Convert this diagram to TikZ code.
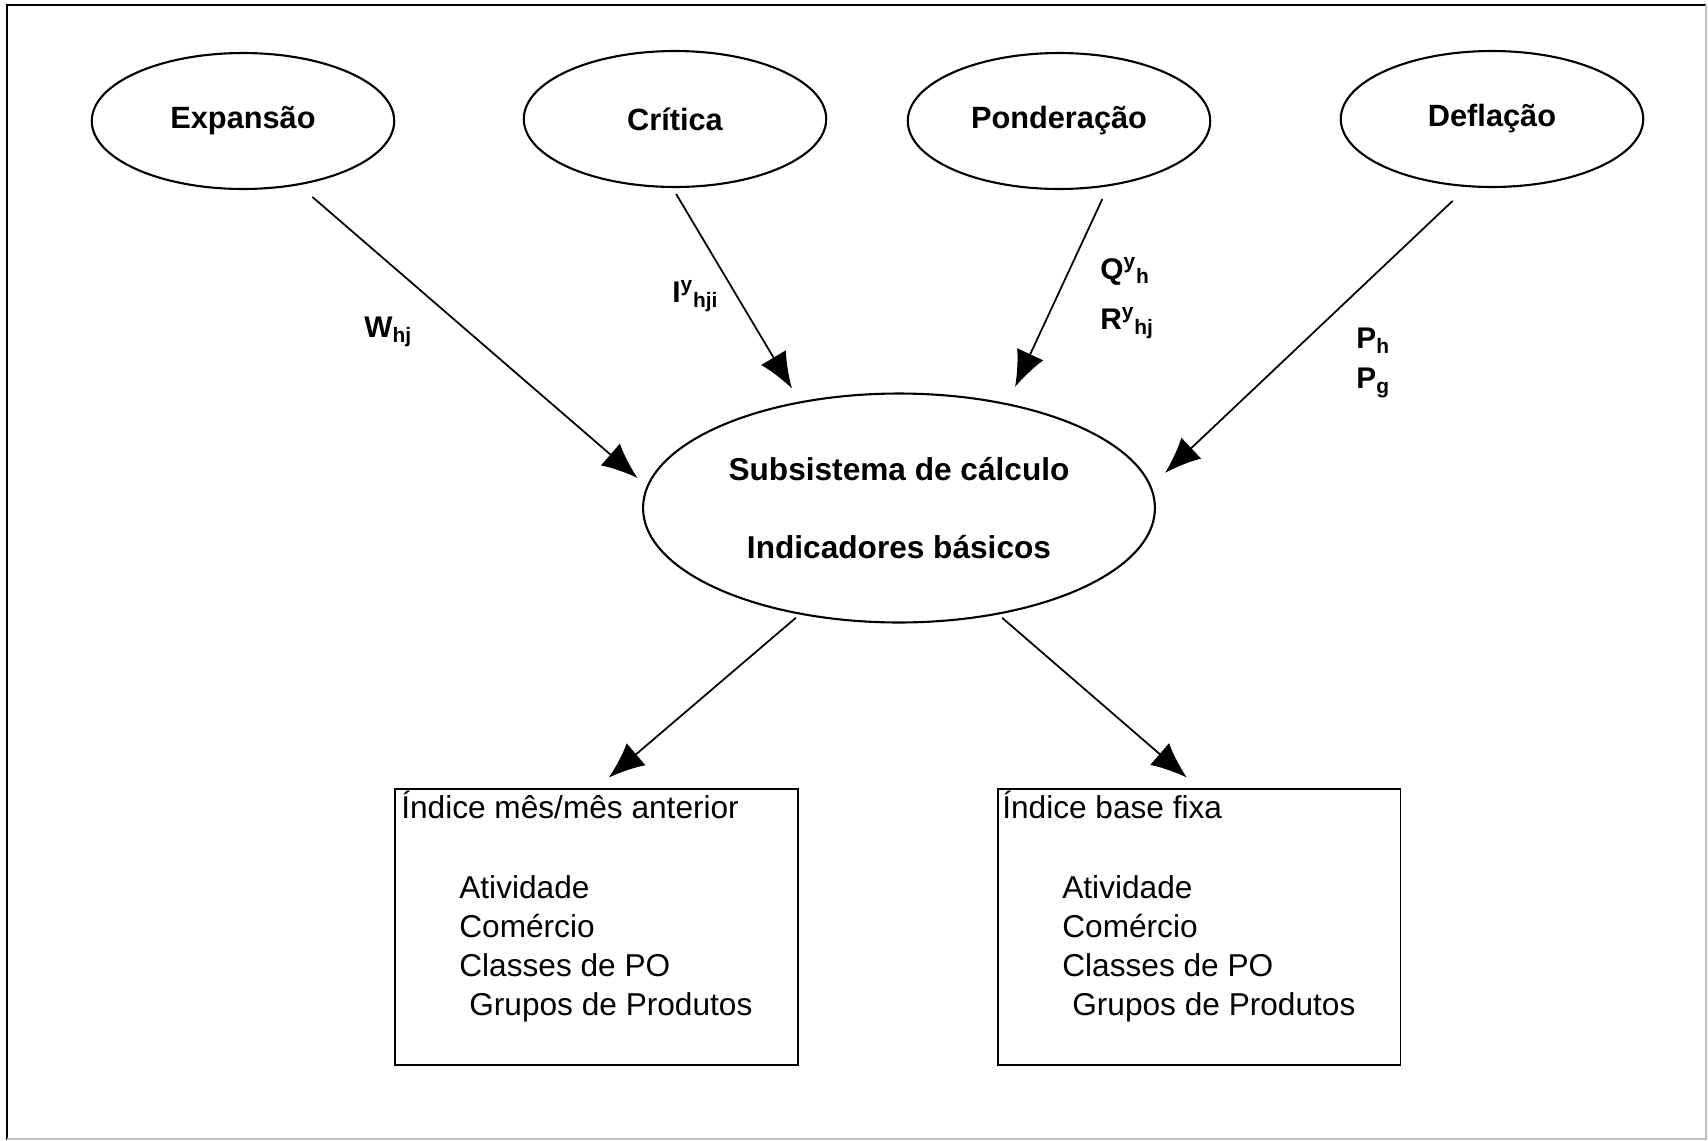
\documentclass[tikz,border=0pt]{standalone}
\usepackage{fontspec}
\setmainfont{Liberation Sans}
\usetikzlibrary{shapes.geometric, arrows.meta, positioning}

\begin{document}
\begin{tikzpicture}[x=0.02cm, y=-0.02cm]
      \tikzset{ topell/.style ={draw=black, ellipse, line width=1.2pt, minimum width=6.05cm, minimum height=2.72cm, inner sep=0pt, font=\fontsize{17.5}{20}\selectfont\bfseries} }
      \tikzset{ calcell/.style={draw=black, ellipse, line width=1.2pt, minimum width=10.24cm, minimum height=4.58cm, inner sep=0pt, align=center, font=\fontsize{18}{20}\selectfont\bfseries} }
      \tikzset{ idxbox/.style ={draw=black, rectangle, line width=1.1pt, minimum width=8.06cm, minimum height=5.52cm, inner sep=0pt} }
      \tikzset{ lbl/.style    ={inner sep=0pt, anchor=west, font=\fontsize{17}{20}\selectfont\bfseries} }
      \tikzset{ txt/.style    ={inner sep=0pt, align=left, font=\fontsize{18}{22.2}\selectfont} }
      \tikzset{ flow/.style   ={-{Latex[length=0.72cm,width=0.58cm]}, line width=1pt} }

      \useasboundingbox (0,0) rectangle (1708,1140);

      % frame
      \draw[line width=1.2pt] (7,1140) -- (7,5) -- (1706,5);
      \draw[gray!50, line width=0.6pt] (1706,5) -- (1706,1139) -- (7,1139);

      \node[topell] (e_exp)  at ( 243, 121) {Expansão};
      \node[topell] (e_crit) at ( 675, 119) {Crítica};
      \node[topell] (e_pond) at (1059, 121) {Ponderação};
      \node[topell] (e_defl) at (1492, 119) {Deflação};

      \node[calcell] (e_calc) at (899, 508) {Subsistema de cálculo\\[24pt]Indicadores básicos};

      \draw[flow, shorten <=0.36cm, shorten >=0.24cm] (e_exp.-49)   -- (e_calc.175);
      \draw[flow, shorten <=0.14cm, shorten >=0.30cm] (e_crit.-92)  -- (e_calc.133);
      \draw[flow, shorten <=0.28cm, shorten >=0.36cm] (e_pond.-53)  -- (e_calc.44);
      \draw[flow, shorten <=0.40cm, shorten >=0.38cm] (e_defl.-110) -- (e_calc.5);

      \node[lbl] (l_w)  at (364, 332) {W\textsubscript{hj}};
      \node[lbl] (l_i)  at (672, 296) {I\textsuperscript{y}\textsubscript{hji}};
      \node[lbl] (l_q)  at (1100, 271) {Q\textsuperscript{y}\textsubscript{h}};
      \node[lbl] (l_r)  at (1100, 323) {R\textsuperscript{y}\textsubscript{hj}};
      \node[lbl] (l_ph) at (1356, 341) {P\textsubscript{h}};
      \node[lbl] (l_pg) at (1356, 383) {P\textsubscript{g}};

      \node[idxbox] (b_mes)  at ( 596.5, 927) {};
      \node[idxbox] (b_fixa) at (1199.0, 927) {};

      \draw[flow, shorten <=0.10cm, shorten >=0.32cm] (e_calc.-133) -- (b_mes.north);
      \draw[flow, shorten <=0.10cm, shorten >=0.32cm] (e_calc.-47)  -- (b_fixa.north);

      \node[txt, anchor=base west] (t_mes)  at (401, 818) {Índice mês/mês anterior};
      \node[txt, anchor=north west] (t_mesl) at (459, 875) {Atividade\\Comércio\\Classes de PO\\\hspace{0.2cm}Grupos de Produtos};

      \node[txt, anchor=base west] (t_fixa)  at (1002, 818) {Índice base fixa};
      \node[txt, anchor=north west] (t_fixal) at (1062, 875) {Atividade\\Comércio\\Classes de PO\\\hspace{0.2cm}Grupos de Produtos};
\end{tikzpicture}
\end{document}
